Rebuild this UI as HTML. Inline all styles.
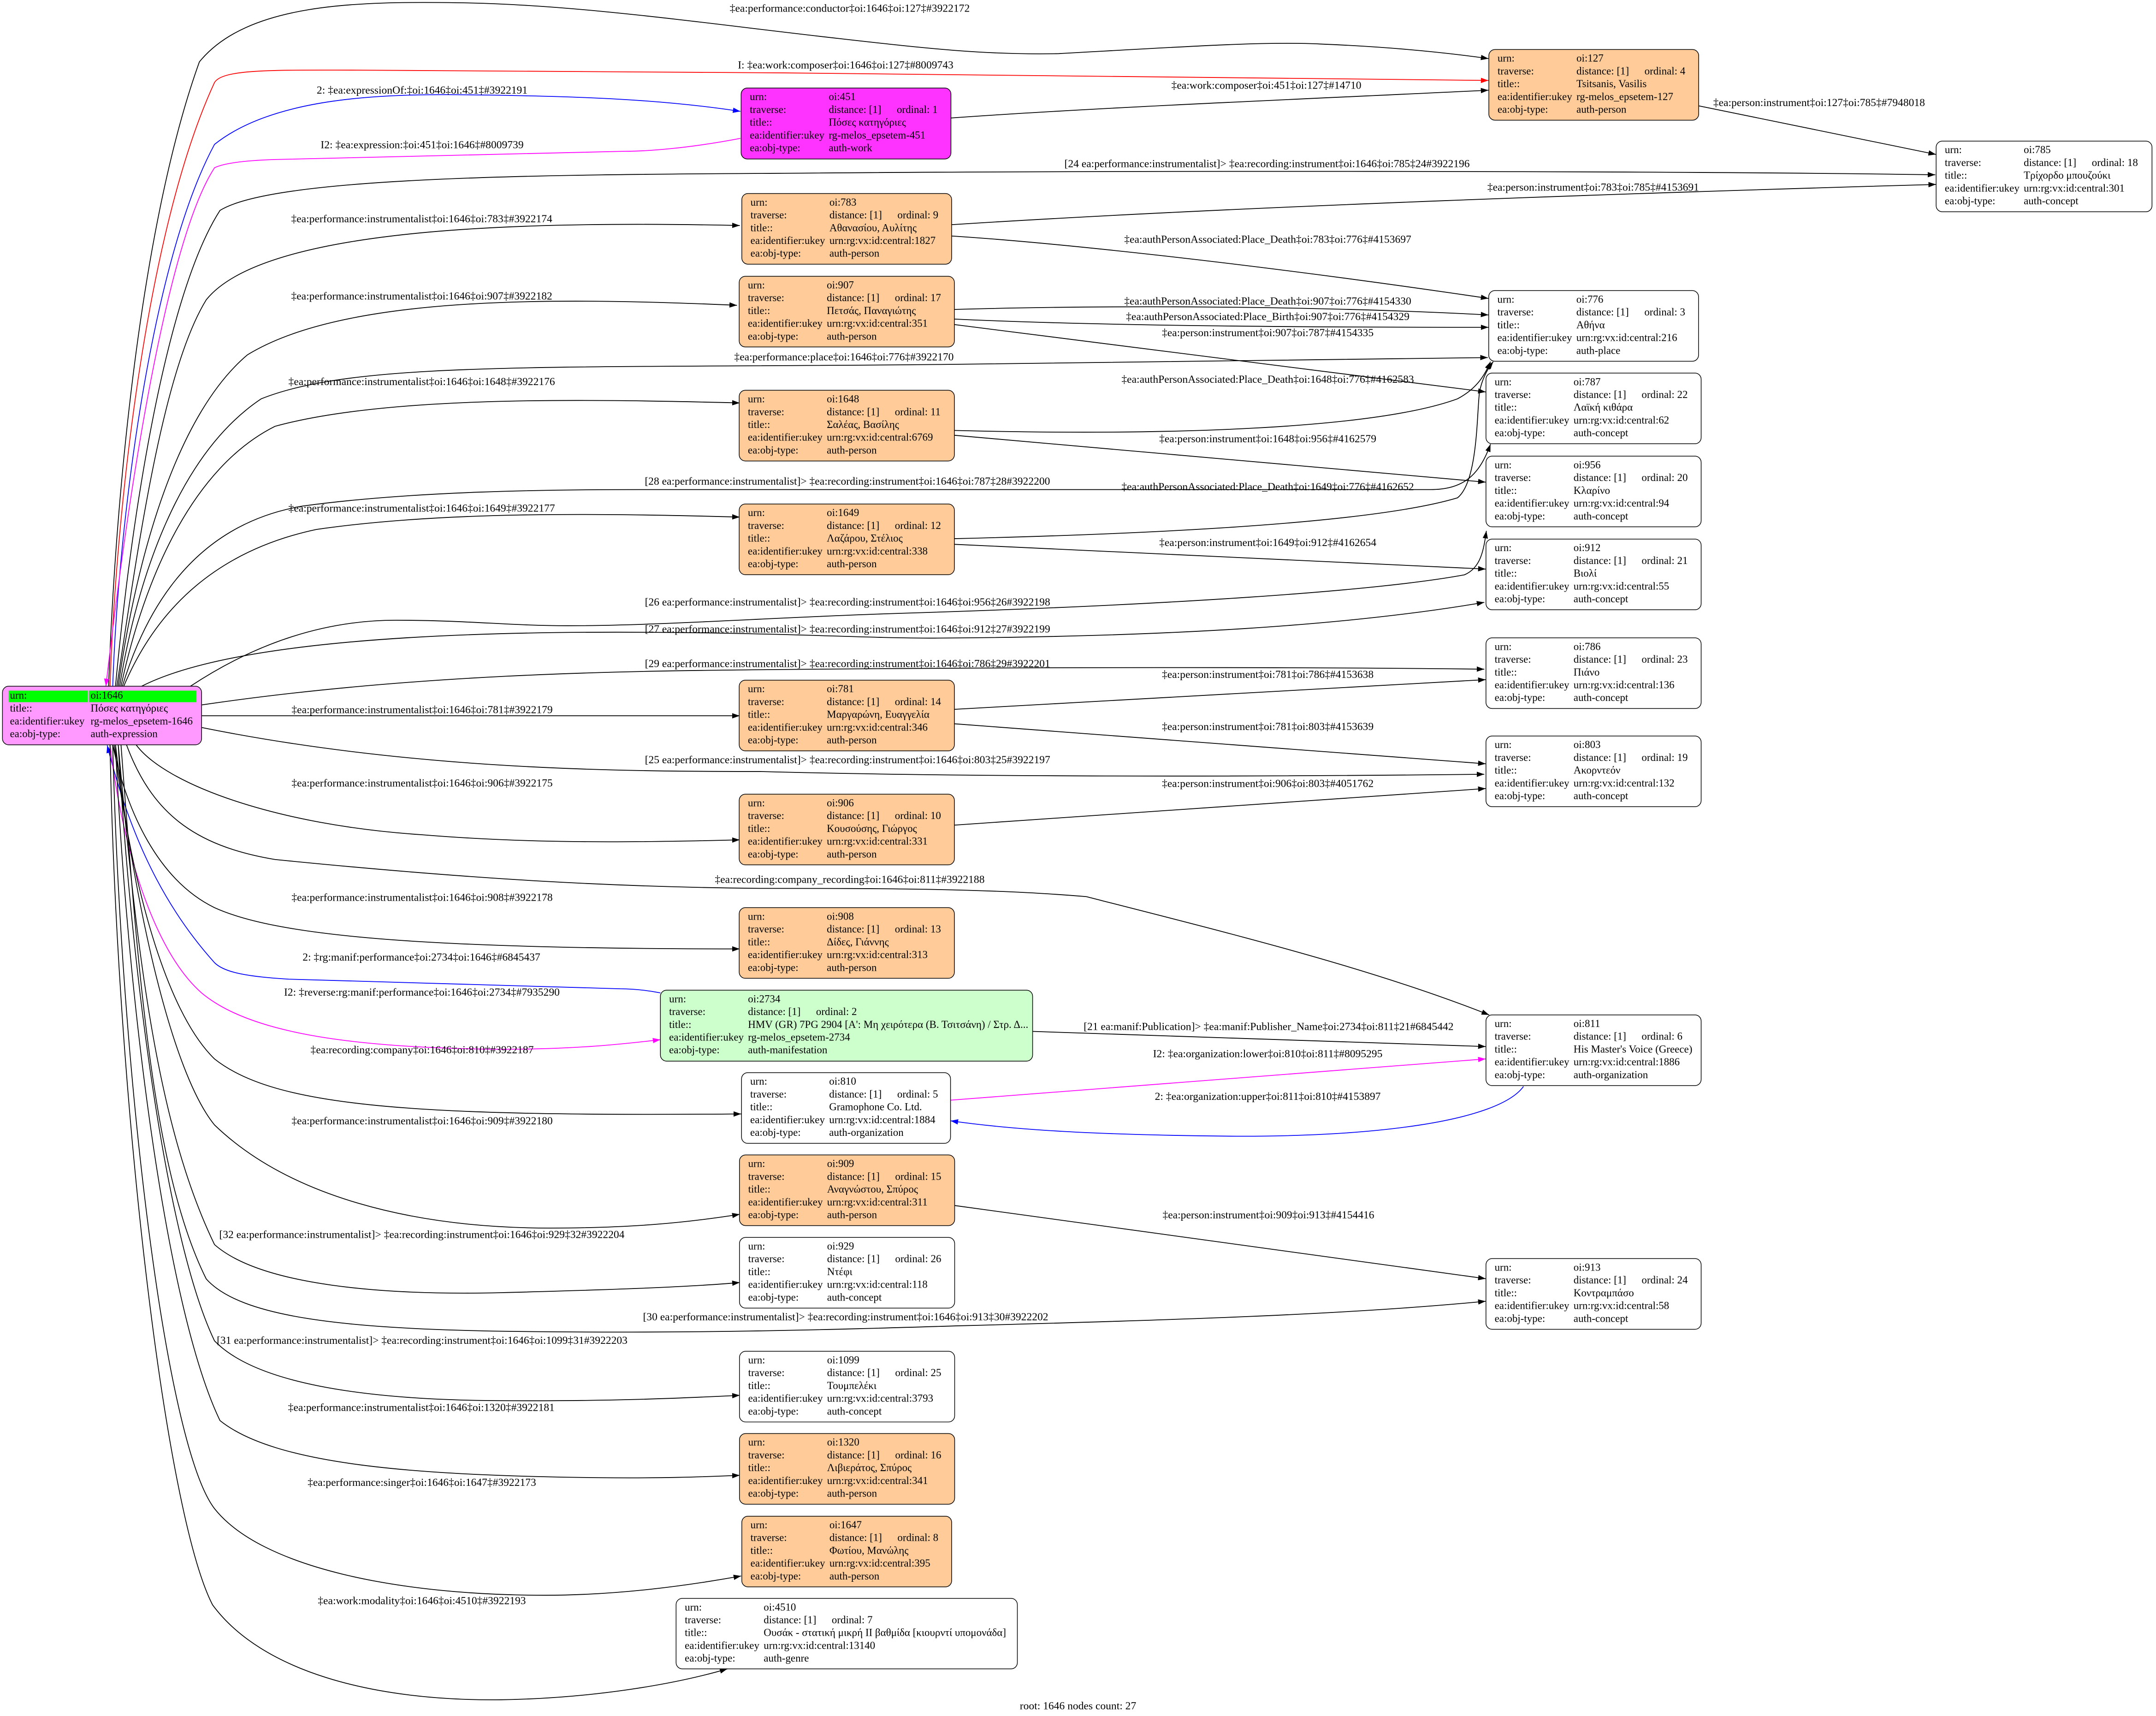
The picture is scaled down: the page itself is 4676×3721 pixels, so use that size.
<!DOCTYPE html>
<html><head><meta charset="utf-8"><style>
html,body{margin:0;padding:0;background:#fff;overflow:hidden}
svg{display:block}
text{font-family:"Liberation Serif","DejaVu Serif",serif;fill:#000}
.n text{font-size:7.7px}
.e{font-size:7.9px;text-anchor:middle}
.n rect{stroke:#000;stroke-width:0.5}
path.k{fill:none;stroke:#000;stroke-width:0.6}
path.r{fill:none;stroke:#f00;stroke-width:0.6}
path.b{fill:none;stroke:#00f;stroke-width:0.6}
path.m{fill:none;stroke:#f0f;stroke-width:0.6}
</style></head><body>
<svg xmlns="http://www.w3.org/2000/svg" width="4676" height="3721" viewBox="0 0 1568 1247.8" preserveAspectRatio="none">
<defs>
<marker id="ak" viewBox="0 0 10 7" refX="10" refY="3.5" markerWidth="5.5" markerHeight="3.9" markerUnits="userSpaceOnUse" orient="auto"><path d="M0,0L10,3.5L0,7z" fill="#000"/></marker>
<marker id="ar" viewBox="0 0 10 7" refX="10" refY="3.5" markerWidth="5.5" markerHeight="3.9" markerUnits="userSpaceOnUse" orient="auto"><path d="M0,0L10,3.5L0,7z" fill="#f00"/></marker>
<marker id="ab" viewBox="0 0 10 7" refX="10" refY="3.5" markerWidth="5.5" markerHeight="3.9" markerUnits="userSpaceOnUse" orient="auto"><path d="M0,0L10,3.5L0,7z" fill="#00f"/></marker>
<marker id="am" viewBox="0 0 10 7" refX="10" refY="3.5" markerWidth="5.5" markerHeight="3.9" markerUnits="userSpaceOnUse" orient="auto"><path d="M0,0L10,3.5L0,7z" fill="#f0f"/></marker>
</defs>
<rect width="1568" height="1247.8" fill="#fff"/>

<!-- ===== EDGES ===== -->
<g>
<!-- root upward -->
<path class="k" marker-end="url(#ak)" d="M79,499 C83,380 100,170 145,45 C180,2 260,1 333,2 C420,3 520,18 610,28 C680,36 720,40 770,39 C860,34 920,30 960,32 C1010,34 1050,38 1082.5,42.6"/>
<path class="r" marker-end="url(#ar)" d="M80,499 C84,380 105,170 156,60 C162,50 200,51 260,51 L570,53 C800,56 950,58 1082.5,58.5"/>
<path class="b" marker-end="url(#ab)" d="M82,499 C86,380 110,190 156,105 C200,70 280,68 345,69 C420,70 480,72 538.5,81"/>
<path class="m" marker-end="url(#am)" d="M538.5,100.6 C500,108 470,110 455,110 L200,116 C170,117 160,120 156,122 C128,165 100,300 77,499"/>
<path class="k" marker-end="url(#ak)" d="M84,499 C95,380 120,215 160,153 C200,128 400,127 570,126 C800,124 1200,124 1407.5,127.1"/>
<path class="k" marker-end="url(#ak)" d="M85,499 C100,400 118,270 150,218 C190,168 360,160 538,164"/>
<path class="k" marker-end="url(#ak)" d="M86,499 C100,400 130,300 180,258 C250,215 400,216 536,222"/>
<path class="k" marker-end="url(#ak)" d="M87,499 C100,420 130,330 190,290 C260,262 400,268 687,265 C900,263 1000,260 1082,260"/>
<path class="k" marker-end="url(#ak)" d="M88,499 C105,420 140,340 200,310 C280,288 420,290 538,293"/>
<path class="k" marker-end="url(#ak)" d="M89,499 C110,430 150,380 220,368 C300,357 400,356 466,356 L1040,356 C1065,356 1076,345 1084,323"/>
<path class="k" marker-end="url(#ak)" d="M90,499 C115,440 160,400 230,385 C320,372 430,373 538,376"/>
<path class="k" marker-end="url(#ak)" d="M138.5,499 C190,465 240,451 288,451 C340,451 370,455 413,455 C480,455 560,449 654,446 C850,440 1000,430 1065,418 C1077,413 1079,400 1081,386"/>
<path class="k" marker-end="url(#ak)" d="M103,499 C160,470 300,455 553,461 C600,462 640,464 680,464 C850,463 980,455 1079.5,438"/>
<path class="k" marker-end="url(#ak)" d="M146.6,512.6 C300,490 450,488 553,487 C750,485 950,485 1079.5,486.6"/>
<!-- root sideways/down -->
<path class="k" marker-end="url(#ak)" d="M146.6,520.5 L538,520.5"/>
<path class="k" marker-end="url(#ak)" d="M146.6,529 C300,560 450,561 553,561 C700,565 900,565 1079.5,563"/>
<path class="k" marker-end="url(#ak)" d="M99,541.6 C120,570 200,600 307,607 C380,613 450,613 538,610.7"/>
<path class="k" marker-end="url(#ak)" d="M92,541.6 C110,590 140,615 200,625 C350,640 450,645 553,646 C640,646 720,646 790,652 C900,680 1000,705 1083,738"/>
<path class="k" marker-end="url(#ak)" d="M82,541.6 C92,590 115,640 156,660 C200,680 300,690 538,690"/>
<path class="b" marker-end="url(#ab)" d="M480.3,722 C470,720 460,719 451,719 L210,712 C175,710 162,706 156,700 C120,660 95,610 78,542"/>
<path class="m" marker-end="url(#am)" d="M80,541.6 C88,610 110,690 146.6,722 C180,750 250,762 364,763 C420,763 455,759 480.3,756"/>
<path class="k" marker-end="url(#ak)" d="M83,541.6 C95,640 120,735 156,770 C200,805 300,812 539,810"/>
<path class="k" marker-end="url(#ak)" d="M84,541.6 C98,660 125,780 156,818 C210,870 300,893 400,893 C460,893 500,889 538,883"/>
<path class="k" marker-end="url(#ak)" d="M86,541.6 C100,700 115,820 156,905 C190,935 280,942 364,940 C440,938 500,936 538,932.6"/>
<path class="k" marker-end="url(#ak)" d="M88,541.6 C100,700 110,850 150,930 C175,958 250,966 364,968 C500,970 600,967 700,964 C850,960 980,956 1080.5,946.2"/>
<path class="k" marker-end="url(#ak)" d="M86,541.6 C95,700 120,900 156,975 C185,1005 260,1018 364,1018.5 C440,1019 490,1017 538,1014.6"/>
<path class="k" marker-end="url(#ak)" d="M84,541.6 C92,720 120,950 160,1033 C200,1065 300,1073 436,1074.5 C480,1075 510,1074 538,1072.8"/>
<path class="k" marker-end="url(#ak)" d="M82,541.6 C88,780 120,1050 156,1097 C190,1140 290,1160 396,1160 C450,1160 500,1153 539,1146"/>
<path class="k" marker-end="url(#ak)" d="M80,541.6 C85,800 120,1100 154.6,1167 C190,1215 270,1237 364,1236 C430,1235 490,1225 529,1213.5"/>
<!-- non-root -->
<path class="k" marker-end="url(#ak)" d="M691.5,85.8 C800,78 950,72 1082.5,65.6"/>
<path class="k" marker-end="url(#ak)" d="M1235.6,77 L1408,112.3"/>
<path class="k" marker-end="url(#ak)" d="M692,163.4 C900,150 1200,140 1408,134.1"/>
<path class="k" marker-end="url(#ak)" d="M692,171.6 C760,176 900,190 1082.5,217"/>
<path class="k" marker-end="url(#ak)" d="M694,225 C800,222 950,222 1082.5,229"/>
<path class="k" marker-end="url(#ak)" d="M694,232 C800,237 950,238 1082.5,238"/>
<path class="k" marker-end="url(#ak)" d="M694,236 L1080.5,285"/>
<path class="k" marker-end="url(#ak)" d="M694,313 C850,317 1000,312 1060,290 C1075,282 1080,272 1084,263"/>
<path class="k" marker-end="url(#ak)" d="M694,316.5 L1080.5,350.6"/>
<path class="k" marker-end="url(#ak)" d="M694,391.7 C850,388 1000,380 1060,362 C1075,350 1074,300 1076,285 C1078,275 1082,268 1086,263"/>
<path class="k" marker-end="url(#ak)" d="M694,395.8 L1080.5,413.8"/>
<path class="k" marker-end="url(#ak)" d="M694,515.8 L1080.5,494.2"/>
<path class="k" marker-end="url(#ak)" d="M694,526.3 L1080.5,555.4"/>
<path class="k" marker-end="url(#ak)" d="M694,600 C850,590 980,580 1080.5,573.4"/>
<path class="k" marker-end="url(#ak)" d="M751,750 L1080.5,761"/>
<path class="m" marker-end="url(#am)" d="M691.3,800 L1080.5,770"/>
<path class="b" marker-end="url(#ab)" d="M1108,790 C1090,815 1000,828 880,826 C800,825 740,822 691.3,815"/>
<path class="k" marker-end="url(#ak)" d="M694.3,876.6 L1080.5,929.8"/>
</g>

<!-- ===== EDGE LABELS ===== -->
<g class="e">
<text x="618" y="8.5">‡ea:performance:conductor‡oi:1646‡oi:127‡#3922172</text>
<text x="615" y="49.8">I: ‡ea:work:composer‡oi:1646‡oi:127‡#8009743</text>
<text x="307" y="68">2: ‡ea:expressionOf:‡oi:1646‡oi:451‡#3922191</text>
<text x="307" y="107.8">I2: ‡ea:expression:‡oi:451‡oi:1646‡#8009739</text>
<text x="921.5" y="121.5">[24 ea:performance:instrumentalist]&gt; ‡ea:recording:instrument‡oi:1646‡oi:785‡24#3922196</text>
<text x="921" y="64.6">‡ea:work:composer‡oi:451‡oi:127‡#14710</text>
<text x="1323" y="77.1">‡ea:person:instrument‡oi:127‡oi:785‡#7948018</text>
<text x="1158.7" y="138.6">‡ea:person:instrument‡oi:783‡oi:785‡#4153691</text>
<text x="306.7" y="161.7">‡ea:performance:instrumentalist‡oi:1646‡oi:783‡#3922174</text>
<text x="922" y="176.5">‡ea:authPersonAssociated:Place_Death‡oi:783‡oi:776‡#4153697</text>
<text x="306.7" y="217.8">‡ea:performance:instrumentalist‡oi:1646‡oi:907‡#3922182</text>
<text x="922" y="221.5">‡ea:authPersonAssociated:Place_Death‡oi:907‡oi:776‡#4154330</text>
<text x="922" y="232.7">‡ea:authPersonAssociated:Place_Birth‡oi:907‡oi:776‡#4154329</text>
<text x="922" y="244.5">‡ea:person:instrument‡oi:907‡oi:787‡#4154335</text>
<text x="613.8" y="262">‡ea:performance:place‡oi:1646‡oi:776‡#3922170</text>
<text x="922" y="278.3">‡ea:authPersonAssociated:Place_Death‡oi:1648‡oi:776‡#4162583</text>
<text x="306.7" y="280">‡ea:performance:instrumentalist‡oi:1646‡oi:1648‡#3922176</text>
<text x="922" y="321.6">‡ea:person:instrument‡oi:1648‡oi:956‡#4162579</text>
<text x="616.3" y="352.5">[28 ea:performance:instrumentalist]&gt; ‡ea:recording:instrument‡oi:1646‡oi:787‡28#3922200</text>
<text x="922" y="356.4">‡ea:authPersonAssociated:Place_Death‡oi:1649‡oi:776‡#4162652</text>
<text x="306.7" y="372">‡ea:performance:instrumentalist‡oi:1646‡oi:1649‡#3922177</text>
<text x="922" y="397">‡ea:person:instrument‡oi:1649‡oi:912‡#4162654</text>
<text x="616.4" y="440.3">[26 ea:performance:instrumentalist]&gt; ‡ea:recording:instrument‡oi:1646‡oi:956‡26#3922198</text>
<text x="616.4" y="460">[27 ea:performance:instrumentalist]&gt; ‡ea:recording:instrument‡oi:1646‡oi:912‡27#3922199</text>
<text x="616.4" y="485">[29 ea:performance:instrumentalist]&gt; ‡ea:recording:instrument‡oi:1646‡oi:786‡29#3922201</text>
<text x="922" y="493">‡ea:person:instrument‡oi:781‡oi:786‡#4153638</text>
<text x="307" y="518.6">‡ea:performance:instrumentalist‡oi:1646‡oi:781‡#3922179</text>
<text x="922" y="530.8">‡ea:person:instrument‡oi:781‡oi:803‡#4153639</text>
<text x="616.4" y="555">[25 ea:performance:instrumentalist]&gt; ‡ea:recording:instrument‡oi:1646‡oi:803‡25#3922197</text>
<text x="922" y="572.3">‡ea:person:instrument‡oi:906‡oi:803‡#4051762</text>
<text x="307" y="572">‡ea:performance:instrumentalist‡oi:1646‡oi:906‡#3922175</text>
<text x="618" y="642">‡ea:recording:company_recording‡oi:1646‡oi:811‡#3922188</text>
<text x="307" y="655.1">‡ea:performance:instrumentalist‡oi:1646‡oi:908‡#3922178</text>
<text x="306.5" y="698.5">2: ‡rg:manif:performance‡oi:2734‡oi:1646‡#6845437</text>
<text x="306.8" y="724">I2: ‡reverse:rg:manif:performance‡oi:1646‡oi:2734‡#7935290</text>
<text x="922.6" y="749">[21 ea:manif:Publication]&gt; ‡ea:manif:Publisher_Name‡oi:2734‡oi:811‡21#6845442</text>
<text x="307" y="766">‡ea:recording:company‡oi:1646‡oi:810‡#3922187</text>
<text x="922" y="768.8">I2: ‡ea:organization:lower‡oi:810‡oi:811‡#8095295</text>
<text x="922" y="799.8">2: ‡ea:organization:upper‡oi:811‡oi:810‡#4153897</text>
<text x="307" y="817.6">‡ea:performance:instrumentalist‡oi:1646‡oi:909‡#3922180</text>
<text x="922.5" y="885.9">‡ea:person:instrument‡oi:909‡oi:913‡#4154416</text>
<text x="306.8" y="900.2">[32 ea:performance:instrumentalist]&gt; ‡ea:recording:instrument‡oi:1646‡oi:929‡32#3922204</text>
<text x="615" y="960">[30 ea:performance:instrumentalist]&gt; ‡ea:recording:instrument‡oi:1646‡oi:913‡30#3922202</text>
<text x="307" y="977.2">[31 ea:performance:instrumentalist]&gt; ‡ea:recording:instrument‡oi:1646‡oi:1099‡31#3922203</text>
<text x="306.4" y="1026">‡ea:performance:instrumentalist‡oi:1646‡oi:1320‡#3922181</text>
<text x="306.8" y="1080.5">‡ea:performance:singer‡oi:1646‡oi:1647‡#3922173</text>
<text x="306.8" y="1166.4">‡ea:work:modality‡oi:1646‡oi:4510‡#3922193</text>
<text x="784" y="1243">root: 1646 nodes count: 27</text>
</g>

<!-- ===== NODES ===== -->
<!-- root -->
<g class="n" transform="translate(1.8,499)">
<rect x="0" y="0" width="144.8" height="42.6" rx="4.5" fill="#ff99ff"/>
<rect x="4.5" y="3.2" width="57.6" height="8.4" fill="#00ff00" stroke="none" style="stroke:none"/>
<rect x="62.9" y="3.2" width="78.2" height="8.4" fill="#00ff00" style="stroke:none"/>
<text x="5.4" y="9">urn:</text><text x="64.1" y="9">oi:1646</text>
<text x="5.4" y="18.5">title::</text><text x="64.1" y="18.5">Πόσες κατηγόριες</text>
<text x="5.4" y="27.8">ea:identifier:ukey</text><text x="64.1" y="27.8">rg-melos_epsetem-1646</text>
<text x="5.4" y="37">ea:obj-type:</text><text x="64.1" y="37">auth-expression</text>
</g>

<!-- oi:127 -->
<g class="n" transform="translate(1082.8,36)">
<rect width="152.6" height="51.4" rx="4.5" fill="#ffcc99"/>
<text x="6.3" y="8.8">urn:</text><text x="63.7" y="8.8">oi:127</text>
<text x="6.3" y="18.1">traverse:</text><text x="63.7" y="18.1">distance: [1]</text><text x="113.2" y="18.1">ordinal: 4</text>
<text x="6.3" y="27.4">title::</text><text x="63.7" y="27.4">Tsitsanis, Vasilis</text>
<text x="6.3" y="36.7">ea:identifier:ukey</text><text x="63.7" y="36.7">rg-melos_epsetem-127</text>
<text x="6.3" y="46">ea:obj-type:</text><text x="63.7" y="46">auth-person</text>
</g>

<!-- oi:451 -->
<g class="n" transform="translate(539,64)">
<rect width="152.6" height="51.6" rx="4.5" fill="#ff33ff"/>
<text x="6.3" y="8.8">urn:</text><text x="63.7" y="8.8">oi:451</text>
<text x="6.3" y="18.1">traverse:</text><text x="63.7" y="18.1">distance: [1]</text><text x="113.2" y="18.1">ordinal: 1</text>
<text x="6.3" y="27.4">title::</text><text x="63.7" y="27.4">Πόσες κατηγόριες</text>
<text x="6.3" y="36.7">ea:identifier:ukey</text><text x="63.7" y="36.7">rg-melos_epsetem-451</text>
<text x="6.3" y="46">ea:obj-type:</text><text x="63.7" y="46">auth-work</text>
</g>

<!-- oi:785 -->
<g class="n" transform="translate(1408.1,102.6)">
<rect width="157" height="51.4" rx="4.5" fill="#fff"/>
<text x="6.3" y="8.8">urn:</text><text x="63.7" y="8.8">oi:785</text>
<text x="6.3" y="18.1">traverse:</text><text x="63.7" y="18.1">distance: [1]</text><text x="113.2" y="18.1">ordinal: 18</text>
<text x="6.3" y="27.4">title::</text><text x="63.7" y="27.4">Τρίχορδο μπουζούκι</text>
<text x="6.3" y="36.7">ea:identifier:ukey</text><text x="63.7" y="36.7">urn:rg:vx:id:central:301</text>
<text x="6.3" y="46">ea:obj-type:</text><text x="63.7" y="46">auth-concept</text>
</g>

<!-- oi:783 -->
<g class="n" transform="translate(539.5,140.7)">
<rect width="152.6" height="51.4" rx="4.5" fill="#ffcc99"/>
<text x="6.3" y="8.8">urn:</text><text x="63.7" y="8.8">oi:783</text>
<text x="6.3" y="18.1">traverse:</text><text x="63.7" y="18.1">distance: [1]</text><text x="113.2" y="18.1">ordinal: 9</text>
<text x="6.3" y="27.4">title::</text><text x="63.7" y="27.4">Αθανασίου, Αυλίτης</text>
<text x="6.3" y="36.7">ea:identifier:ukey</text><text x="63.7" y="36.7">urn:rg:vx:id:central:1827</text>
<text x="6.3" y="46">ea:obj-type:</text><text x="63.7" y="46">auth-person</text>
</g>

<!-- oi:907 -->
<g class="n" transform="translate(537.6,200.9)">
<rect width="156.5" height="51.4" rx="4.5" fill="#ffcc99"/>
<text x="6.3" y="8.8">urn:</text><text x="63.7" y="8.8">oi:907</text>
<text x="6.3" y="18.1">traverse:</text><text x="63.7" y="18.1">distance: [1]</text><text x="113.2" y="18.1">ordinal: 17</text>
<text x="6.3" y="27.4">title::</text><text x="63.7" y="27.4">Πετσάς, Παναγιώτης</text>
<text x="6.3" y="36.7">ea:identifier:ukey</text><text x="63.7" y="36.7">urn:rg:vx:id:central:351</text>
<text x="6.3" y="46">ea:obj-type:</text><text x="63.7" y="46">auth-person</text>
</g>

<!-- oi:776 -->
<g class="n" transform="translate(1082.7,211.3)">
<rect width="152.6" height="51.4" rx="4.5" fill="#fff"/>
<text x="6.3" y="8.8">urn:</text><text x="63.7" y="8.8">oi:776</text>
<text x="6.3" y="18.1">traverse:</text><text x="63.7" y="18.1">distance: [1]</text><text x="113.2" y="18.1">ordinal: 3</text>
<text x="6.3" y="27.4">title::</text><text x="63.7" y="27.4">Αθήνα</text>
<text x="6.3" y="36.7">ea:identifier:ukey</text><text x="63.7" y="36.7">urn:rg:vx:id:central:216</text>
<text x="6.3" y="46">ea:obj-type:</text><text x="63.7" y="46">auth-place</text>
</g>

<!-- oi:787 -->
<g class="n" transform="translate(1080.7,271.3)">
<rect width="156.5" height="51.4" rx="4.5" fill="#fff"/>
<text x="6.3" y="8.8">urn:</text><text x="63.7" y="8.8">oi:787</text>
<text x="6.3" y="18.1">traverse:</text><text x="63.7" y="18.1">distance: [1]</text><text x="113.2" y="18.1">ordinal: 22</text>
<text x="6.3" y="27.4">title::</text><text x="63.7" y="27.4">Λαϊκή κιθάρα</text>
<text x="6.3" y="36.7">ea:identifier:ukey</text><text x="63.7" y="36.7">urn:rg:vx:id:central:62</text>
<text x="6.3" y="46">ea:obj-type:</text><text x="63.7" y="46">auth-concept</text>
</g>

<!-- oi:1648 -->
<g class="n" transform="translate(537.6,283.8)">
<rect width="156.5" height="51.4" rx="4.5" fill="#ffcc99"/>
<text x="6.3" y="8.8">urn:</text><text x="63.7" y="8.8">oi:1648</text>
<text x="6.3" y="18.1">traverse:</text><text x="63.7" y="18.1">distance: [1]</text><text x="113.2" y="18.1">ordinal: 11</text>
<text x="6.3" y="27.4">title::</text><text x="63.7" y="27.4">Σαλέας, Βασίλης</text>
<text x="6.3" y="36.7">ea:identifier:ukey</text><text x="63.7" y="36.7">urn:rg:vx:id:central:6769</text>
<text x="6.3" y="46">ea:obj-type:</text><text x="63.7" y="46">auth-person</text>
</g>

<!-- oi:956 -->
<g class="n" transform="translate(1080.7,331.7)">
<rect width="156.5" height="51.4" rx="4.5" fill="#fff"/>
<text x="6.3" y="8.8">urn:</text><text x="63.7" y="8.8">oi:956</text>
<text x="6.3" y="18.1">traverse:</text><text x="63.7" y="18.1">distance: [1]</text><text x="113.2" y="18.1">ordinal: 20</text>
<text x="6.3" y="27.4">title::</text><text x="63.7" y="27.4">Κλαρίνο</text>
<text x="6.3" y="36.7">ea:identifier:ukey</text><text x="63.7" y="36.7">urn:rg:vx:id:central:94</text>
<text x="6.3" y="46">ea:obj-type:</text><text x="63.7" y="46">auth-concept</text>
</g>

<!-- oi:1649 -->
<g class="n" transform="translate(537.6,366.5)">
<rect width="156.5" height="51.4" rx="4.5" fill="#ffcc99"/>
<text x="6.3" y="8.8">urn:</text><text x="63.7" y="8.8">oi:1649</text>
<text x="6.3" y="18.1">traverse:</text><text x="63.7" y="18.1">distance: [1]</text><text x="113.2" y="18.1">ordinal: 12</text>
<text x="6.3" y="27.4">title::</text><text x="63.7" y="27.4">Λαζάρου, Στέλιος</text>
<text x="6.3" y="36.7">ea:identifier:ukey</text><text x="63.7" y="36.7">urn:rg:vx:id:central:338</text>
<text x="6.3" y="46">ea:obj-type:</text><text x="63.7" y="46">auth-person</text>
</g>

<!-- oi:912 -->
<g class="n" transform="translate(1080.7,392)">
<rect width="156.5" height="51.4" rx="4.5" fill="#fff"/>
<text x="6.3" y="8.8">urn:</text><text x="63.7" y="8.8">oi:912</text>
<text x="6.3" y="18.1">traverse:</text><text x="63.7" y="18.1">distance: [1]</text><text x="113.2" y="18.1">ordinal: 21</text>
<text x="6.3" y="27.4">title::</text><text x="63.7" y="27.4">Βιολί</text>
<text x="6.3" y="36.7">ea:identifier:ukey</text><text x="63.7" y="36.7">urn:rg:vx:id:central:55</text>
<text x="6.3" y="46">ea:obj-type:</text><text x="63.7" y="46">auth-concept</text>
</g>

<!-- oi:786 -->
<g class="n" transform="translate(1080.7,463.8)">
<rect width="156.5" height="51.4" rx="4.5" fill="#fff"/>
<text x="6.3" y="8.8">urn:</text><text x="63.7" y="8.8">oi:786</text>
<text x="6.3" y="18.1">traverse:</text><text x="63.7" y="18.1">distance: [1]</text><text x="113.2" y="18.1">ordinal: 23</text>
<text x="6.3" y="27.4">title::</text><text x="63.7" y="27.4">Πιάνο</text>
<text x="6.3" y="36.7">ea:identifier:ukey</text><text x="63.7" y="36.7">urn:rg:vx:id:central:136</text>
<text x="6.3" y="46">ea:obj-type:</text><text x="63.7" y="46">auth-concept</text>
</g>

<!-- oi:781 -->
<g class="n" transform="translate(537.6,494.6)">
<rect width="156.5" height="51.4" rx="4.5" fill="#ffcc99"/>
<text x="6.3" y="8.8">urn:</text><text x="63.7" y="8.8">oi:781</text>
<text x="6.3" y="18.1">traverse:</text><text x="63.7" y="18.1">distance: [1]</text><text x="113.2" y="18.1">ordinal: 14</text>
<text x="6.3" y="27.4">title::</text><text x="63.7" y="27.4">Μαργαρώνη, Ευαγγελία</text>
<text x="6.3" y="36.7">ea:identifier:ukey</text><text x="63.7" y="36.7">urn:rg:vx:id:central:346</text>
<text x="6.3" y="46">ea:obj-type:</text><text x="63.7" y="46">auth-person</text>
</g>

<!-- oi:803 -->
<g class="n" transform="translate(1080.7,535.2)">
<rect width="156.5" height="51.4" rx="4.5" fill="#fff"/>
<text x="6.3" y="8.8">urn:</text><text x="63.7" y="8.8">oi:803</text>
<text x="6.3" y="18.1">traverse:</text><text x="63.7" y="18.1">distance: [1]</text><text x="113.2" y="18.1">ordinal: 19</text>
<text x="6.3" y="27.4">title::</text><text x="63.7" y="27.4">Ακορντεόν</text>
<text x="6.3" y="36.7">ea:identifier:ukey</text><text x="63.7" y="36.7">urn:rg:vx:id:central:132</text>
<text x="6.3" y="46">ea:obj-type:</text><text x="63.7" y="46">auth-concept</text>
</g>

<!-- oi:906 -->
<g class="n" transform="translate(537.6,577.5)">
<rect width="156.5" height="51.4" rx="4.5" fill="#ffcc99"/>
<text x="6.3" y="8.8">urn:</text><text x="63.7" y="8.8">oi:906</text>
<text x="6.3" y="18.1">traverse:</text><text x="63.7" y="18.1">distance: [1]</text><text x="113.2" y="18.1">ordinal: 10</text>
<text x="6.3" y="27.4">title::</text><text x="63.7" y="27.4">Κουσούσης, Γιώργος</text>
<text x="6.3" y="36.7">ea:identifier:ukey</text><text x="63.7" y="36.7">urn:rg:vx:id:central:331</text>
<text x="6.3" y="46">ea:obj-type:</text><text x="63.7" y="46">auth-person</text>
</g>

<!-- oi:908 -->
<g class="n" transform="translate(537.6,660)">
<rect width="156.5" height="51.4" rx="4.5" fill="#ffcc99"/>
<text x="6.3" y="8.8">urn:</text><text x="63.7" y="8.8">oi:908</text>
<text x="6.3" y="18.1">traverse:</text><text x="63.7" y="18.1">distance: [1]</text><text x="113.2" y="18.1">ordinal: 13</text>
<text x="6.3" y="27.4">title::</text><text x="63.7" y="27.4">Δίδες, Γιάννης</text>
<text x="6.3" y="36.7">ea:identifier:ukey</text><text x="63.7" y="36.7">urn:rg:vx:id:central:313</text>
<text x="6.3" y="46">ea:obj-type:</text><text x="63.7" y="46">auth-person</text>
</g>

<!-- oi:2734 -->
<g class="n" transform="translate(480.3,720)">
<rect width="270.7" height="51.6" rx="4.5" fill="#ccffcc"/>
<text x="6.3" y="8.8">urn:</text><text x="63.7" y="8.8">oi:2734</text>
<text x="6.3" y="18.1">traverse:</text><text x="63.7" y="18.1">distance: [1]</text><text x="113.2" y="18.1">ordinal: 2</text>
<text x="6.3" y="27.4">title::</text><text x="63.7" y="27.4">HMV (GR) 7PG 2904 [A': Μη χειρότερα (Β. Τσιτσάνη) / Στρ. Δ...</text>
<text x="6.3" y="36.7">ea:identifier:ukey</text><text x="63.7" y="36.7">rg-melos_epsetem-2734</text>
<text x="6.3" y="46">ea:obj-type:</text><text x="63.7" y="46">auth-manifestation</text>
</g>

<!-- oi:811 -->
<g class="n" transform="translate(1080.7,738)">
<rect width="156.5" height="51.4" rx="4.5" fill="#fff"/>
<text x="6.3" y="8.8">urn:</text><text x="63.7" y="8.8">oi:811</text>
<text x="6.3" y="18.1">traverse:</text><text x="63.7" y="18.1">distance: [1]</text><text x="113.2" y="18.1">ordinal: 6</text>
<text x="6.3" y="27.4">title::</text><text x="63.7" y="27.4">His Master's Voice (Greece)</text>
<text x="6.3" y="36.7">ea:identifier:ukey</text><text x="63.7" y="36.7">urn:rg:vx:id:central:1886</text>
<text x="6.3" y="46">ea:obj-type:</text><text x="63.7" y="46">auth-organization</text>
</g>

<!-- oi:810 -->
<g class="n" transform="translate(539.3,780)">
<rect width="152" height="51.4" rx="4.5" fill="#fff"/>
<text x="6.3" y="8.8">urn:</text><text x="63.7" y="8.8">oi:810</text>
<text x="6.3" y="18.1">traverse:</text><text x="63.7" y="18.1">distance: [1]</text><text x="113.2" y="18.1">ordinal: 5</text>
<text x="6.3" y="27.4">title::</text><text x="63.7" y="27.4">Gramophone Co. Ltd.</text>
<text x="6.3" y="36.7">ea:identifier:ukey</text><text x="63.7" y="36.7">urn:rg:vx:id:central:1884</text>
<text x="6.3" y="46">ea:obj-type:</text><text x="63.7" y="46">auth-organization</text>
</g>

<!-- oi:909 -->
<g class="n" transform="translate(537.8,839.8)">
<rect width="156.5" height="51.4" rx="4.5" fill="#ffcc99"/>
<text x="6.3" y="8.8">urn:</text><text x="63.7" y="8.8">oi:909</text>
<text x="6.3" y="18.1">traverse:</text><text x="63.7" y="18.1">distance: [1]</text><text x="113.2" y="18.1">ordinal: 15</text>
<text x="6.3" y="27.4">title::</text><text x="63.7" y="27.4">Αναγνώστου, Σπύρος</text>
<text x="6.3" y="36.7">ea:identifier:ukey</text><text x="63.7" y="36.7">urn:rg:vx:id:central:311</text>
<text x="6.3" y="46">ea:obj-type:</text><text x="63.7" y="46">auth-person</text>
</g>

<!-- oi:929 -->
<g class="n" transform="translate(537.8,899.8)">
<rect width="156.5" height="51.4" rx="4.5" fill="#fff"/>
<text x="6.3" y="8.8">urn:</text><text x="63.7" y="8.8">oi:929</text>
<text x="6.3" y="18.1">traverse:</text><text x="63.7" y="18.1">distance: [1]</text><text x="113.2" y="18.1">ordinal: 26</text>
<text x="6.3" y="27.4">title::</text><text x="63.7" y="27.4">Ντέφι</text>
<text x="6.3" y="36.7">ea:identifier:ukey</text><text x="63.7" y="36.7">urn:rg:vx:id:central:118</text>
<text x="6.3" y="46">ea:obj-type:</text><text x="63.7" y="46">auth-concept</text>
</g>

<!-- oi:913 -->
<g class="n" transform="translate(1080.7,915.2)">
<rect width="156.5" height="51.4" rx="4.5" fill="#fff"/>
<text x="6.3" y="8.8">urn:</text><text x="63.7" y="8.8">oi:913</text>
<text x="6.3" y="18.1">traverse:</text><text x="63.7" y="18.1">distance: [1]</text><text x="113.2" y="18.1">ordinal: 24</text>
<text x="6.3" y="27.4">title::</text><text x="63.7" y="27.4">Κοντραμπάσο</text>
<text x="6.3" y="36.7">ea:identifier:ukey</text><text x="63.7" y="36.7">urn:rg:vx:id:central:58</text>
<text x="6.3" y="46">ea:obj-type:</text><text x="63.7" y="46">auth-concept</text>
</g>

<!-- oi:1099 -->
<g class="n" transform="translate(537.8,982.6)">
<rect width="156.5" height="51.4" rx="4.5" fill="#fff"/>
<text x="6.3" y="8.8">urn:</text><text x="63.7" y="8.8">oi:1099</text>
<text x="6.3" y="18.1">traverse:</text><text x="63.7" y="18.1">distance: [1]</text><text x="113.2" y="18.1">ordinal: 25</text>
<text x="6.3" y="27.4">title::</text><text x="63.7" y="27.4">Τουμπελέκι</text>
<text x="6.3" y="36.7">ea:identifier:ukey</text><text x="63.7" y="36.7">urn:rg:vx:id:central:3793</text>
<text x="6.3" y="46">ea:obj-type:</text><text x="63.7" y="46">auth-concept</text>
</g>

<!-- oi:1320 -->
<g class="n" transform="translate(537.8,1042.4)">
<rect width="156.5" height="51.4" rx="4.5" fill="#ffcc99"/>
<text x="6.3" y="8.8">urn:</text><text x="63.7" y="8.8">oi:1320</text>
<text x="6.3" y="18.1">traverse:</text><text x="63.7" y="18.1">distance: [1]</text><text x="113.2" y="18.1">ordinal: 16</text>
<text x="6.3" y="27.4">title::</text><text x="63.7" y="27.4">Λιβιεράτος, Σπύρος</text>
<text x="6.3" y="36.7">ea:identifier:ukey</text><text x="63.7" y="36.7">urn:rg:vx:id:central:341</text>
<text x="6.3" y="46">ea:obj-type:</text><text x="63.7" y="46">auth-person</text>
</g>

<!-- oi:1647 -->
<g class="n" transform="translate(539.5,1102.5)">
<rect width="152.6" height="51.4" rx="4.5" fill="#ffcc99"/>
<text x="6.3" y="8.8">urn:</text><text x="63.7" y="8.8">oi:1647</text>
<text x="6.3" y="18.1">traverse:</text><text x="63.7" y="18.1">distance: [1]</text><text x="113.2" y="18.1">ordinal: 8</text>
<text x="6.3" y="27.4">title::</text><text x="63.7" y="27.4">Φωτίου, Μανώλης</text>
<text x="6.3" y="36.7">ea:identifier:ukey</text><text x="63.7" y="36.7">urn:rg:vx:id:central:395</text>
<text x="6.3" y="46">ea:obj-type:</text><text x="63.7" y="46">auth-person</text>
</g>

<!-- oi:4510 -->
<g class="n" transform="translate(491.7,1162.3)">
<rect width="248.2" height="51.2" rx="4.5" fill="#fff"/>
<text x="6.3" y="8.8">urn:</text><text x="63.7" y="8.8">oi:4510</text>
<text x="6.3" y="18.1">traverse:</text><text x="63.7" y="18.1">distance: [1]</text><text x="113.2" y="18.1">ordinal: 7</text>
<text x="6.3" y="27.4">title::</text><text x="63.7" y="27.4">Ουσάκ - στατική μικρή ΙΙ βαθμίδα [κιουρντί υπομονάδα]</text>
<text x="6.3" y="36.7">ea:identifier:ukey</text><text x="63.7" y="36.7">urn:rg:vx:id:central:13140</text>
<text x="6.3" y="46">ea:obj-type:</text><text x="63.7" y="46">auth-genre</text>
</g>
</svg>
</body></html>
